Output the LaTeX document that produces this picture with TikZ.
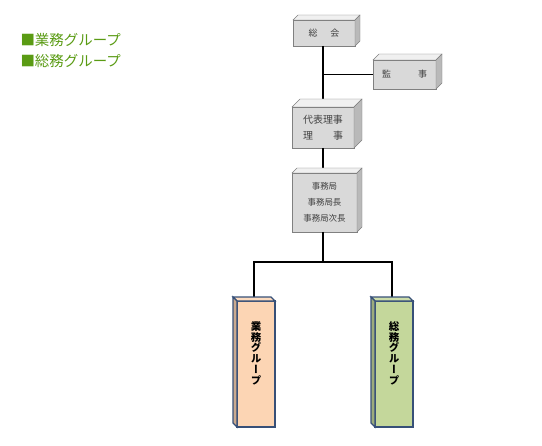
\documentclass[tikz,border=0pt]{standalone}
\usepackage{fontspec}
\setmainfont{Noto Sans CJK JP}
\usetikzlibrary{positioning}

\definecolor{legendgreen}{RGB}{90,155,20}
\definecolor{boxgray}{RGB}{217,217,217}
\definecolor{boxedge}{RGB}{128,128,128}
\definecolor{groupedge}{RGB}{55,80,120}
\definecolor{gyomufill}{RGB}{252,213,180}
\definecolor{somufill}{RGB}{196,215,155}

\begin{document}
\begin{tikzpicture}[x=1bp, y=-1bp,
    office/.style={rectangle, draw=boxedge, fill=boxgray, outer sep=0pt, inner sep=0pt, align=center, text=black!75, font=\fontsize{9}{16}\selectfont},
    group/.style={rectangle, draw=groupedge, line width=1.2bp, outer sep=0pt, inner sep=0pt, minimum width=38bp, minimum height=126bp},
    vtext/.style={anchor=north, align=center, font=\fontsize{10.5}{10.8}\selectfont\bfseries\addfontfeature{RawFeature=+vert}},
    link/.style={line width=1.6bp},
    legend/.style={anchor=west, text=legendgreen, font=\fontsize{14.5}{14.5}\selectfont}
  ]
  \useasboundingbox (0,0) rectangle (542,446);

  % legend
  \node[legend] (leg1) at (17,40) {■業務グループ};
  \node[legend] (leg2) at (17,61) {■総務グループ};

  % offices
  \node[office, minimum width=62bp, minimum height=26bp] (soukai) at (324,33) {総\hspace{13bp}会};
  \node[office, minimum width=63bp, minimum height=29bp] (kanji) at (404.5,74.5) {監\hspace{27bp}事};
  \node[office, minimum width=62bp, minimum height=41bp, font=\fontsize{10}{16}\selectfont] (daihyo) at (323,127.5) {代表理事\\理\hspace{20bp}事};
  \node[office, minimum width=65bp, minimum height=59bp, font=\fontsize{8.5}{16}\selectfont] (jimu) at (324.5,202.5) {事務局\\事務局長\\事務局次長};

  % groups
  \node[group, fill=gyomufill] (gyomu) at (256,364) {};
  \node[group, fill=somufill] (somu) at (394,364) {};
  \coordinate (fork) at (323,262);

  % connectors
  \draw[link] (soukai.south -| fork) -- (daihyo.north -| fork);
  \draw[link] (kanji.west -| fork) -- (kanji.west);
  \draw[link] (daihyo.south -| fork) -- (jimu.north -| fork);
  \draw[link] (jimu.south -| fork) -- (fork);
  \draw[link] ([xshift=-2bp,yshift=4bp]gyomu.north) |- (fork) -| ([xshift=-2bp,yshift=4bp]somu.north);

  % box depth
  \foreach \n/\d in {soukai/5, kanji/6, daihyo/8, jimu/5} {
    \filldraw[draw=boxedge, fill=gray!12] (\n.north west) -- ++(\d,-\d) -- ([shift={(\d,-\d)}]\n.north east) -- (\n.north east) -- cycle;
    \filldraw[draw=boxedge, fill=gray!55] (\n.north east) -- ++(\d,-\d) -- ([shift={(\d,-\d)}]\n.south east) -- (\n.south east) -- cycle;
  }
  \foreach \n/\c in {gyomu/gyomufill, somu/somufill} {
    \filldraw[draw=groupedge, line width=1.2bp, fill=\c!85!white] (\n.north west) -- ++(-4,-4) -- ([shift={(-4,-4)}]\n.north east) -- (\n.north east) -- cycle;
    \filldraw[draw=groupedge, line width=1.2bp, fill=\c!80!black] (\n.north west) -- ++(-4,-4) -- ([shift={(-4,-4)}]\n.south west) -- (\n.south west) -- cycle;
  }

  % vertical labels
  \node[vtext] (gyomutxt) at ([yshift=-17bp]gyomu.north) {業\\務\\グ\\ル\\ー\\プ};
  \node[vtext] (somutxt) at ([yshift=-17bp]somu.north) {総\\務\\グ\\ル\\ー\\プ};
\end{tikzpicture}
\end{document}
